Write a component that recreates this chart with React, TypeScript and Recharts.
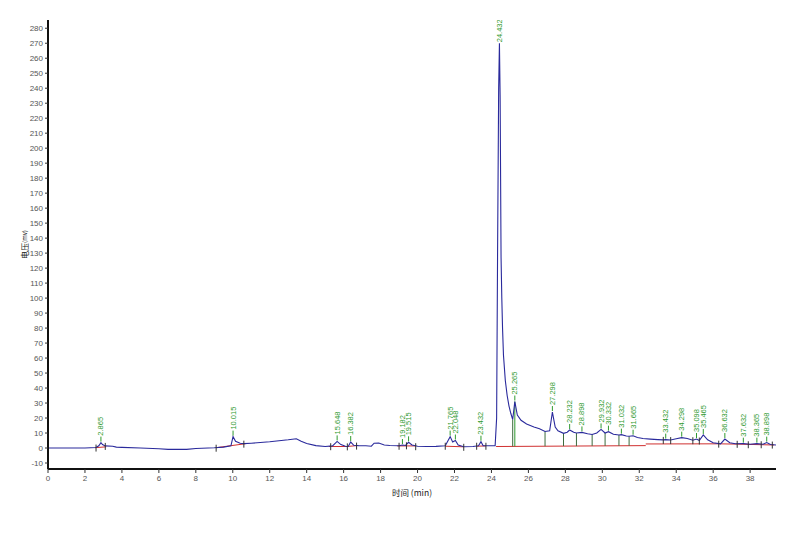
import React from 'react';
import {
  ComposedChart, Line, Scatter, XAxis, YAxis, ReferenceLine, Label,
} from 'recharts';

// retention time (min) and detector signal (mV)
const TIME = [
  0, 1.0, 2.0, 2.6, 2.75, 2.865, 2.95, 3.1, 3.5, 3.7, 4.0, 5.0, 6.0, 6.5, 7.5, 8.0, 9.0, 9.5, 9.9,
  10.015, 10.15, 10.4, 10.6, 11.0, 12.0, 13.0, 13.44, 13.7, 14.0, 14.5, 15.0, 15.4, 15.648, 15.85,
  16.1, 16.25, 16.382, 16.55, 16.8, 17.2, 17.5, 17.65, 17.9, 18.2, 18.5, 19.0, 19.182, 19.35, 19.515,
  19.7, 20.0, 20.5, 21.0, 21.5, 21.765, 21.9, 22.048, 22.2, 22.5, 23.0, 23.3, 23.432, 23.55, 23.8,
  24.2, 24.28, 24.33, 24.39, 24.432, 24.47, 24.52, 24.56, 24.6, 24.65, 24.75, 24.85, 24.95, 25.05, 25.15,
  25.265, 25.4, 25.6, 25.9, 26.3, 26.6, 26.9, 27.15, 27.298, 27.45, 27.6, 27.9, 28.1, 28.232, 28.45,
  28.6, 28.898, 29.2, 29.45, 29.7, 29.932, 30.15, 30.332, 30.6, 30.9, 31.032, 31.3, 31.45, 31.665,
  31.9, 32.2, 32.6, 33.0, 33.3, 33.432, 33.7, 34.0, 34.298, 34.6, 34.9, 35.098, 35.25, 35.465, 35.7,
  36.0, 36.4, 36.632, 36.9, 37.2, 37.632, 38.0, 38.365, 38.7, 38.898, 39.1, 39.4,
];
const VOLT = [
  0, 0, 0, 0.3, 1.5, 3.6, 2.3, 1.4, 1.2, 0.6, 0.4, 0, -0.5, -0.9, -0.9, -0.3, 0.2, 0.6, 1.5,
  7.6, 4.5, 3.2, 2.9, 3.2, 4.2, 5.5, 6.2, 4.5, 3.0, 1.6, 1.0, 1.4, 4.4, 2.3,
  1.2, 1.0, 4.0, 1.8, 1.6, 1.5, 1.2, 3.2, 3.3, 2.0, 1.7, 1.5, 2.0, 1.7, 3.8,
  2.0, 1.2, 1.0, 1.1, 1.5, 7.6, 4.0, 5.0, 2.0, 0.8, 1.0, 1.5, 4.2, 1.5, 1.5,
  1.6, 20, 127, 240, 270, 234, 127, 100, 80, 62, 45, 35, 28, 23, 19,
  31, 22, 18.5, 16, 14, 12.8, 11, 11.5, 24, 14, 11.5, 9.8, 10.5, 12, 10.5,
  10, 10.4, 9.5, 9, 10, 12.4, 10, 10.9, 9.2, 8.7, 8.9, 8, 7.8, 8.2,
  7.0, 6.3, 5.9, 5.6, 5.4, 5.6, 5.3, 6.2, 6.9, 6.4, 5.2, 6.0, 5.0, 8.7, 5.5,
  3.5, 2.8, 6.0, 3.5, 2.8, 2.9, 2.5, 2.9, 2.5, 3.6, 2.3, 2.0,
];

// integrated peaks
const PEAK_TIMES = [
  2.865, 10.015, 15.648, 16.382, 19.182, 19.515, 21.765, 22.048, 23.432, 24.432, 25.265, 27.298,
  28.232, 28.898, 29.932, 30.332, 31.032, 31.665, 33.432, 34.298, 35.098, 35.465, 36.632, 37.632,
  38.365, 38.898,
];
const PEAK_LABELS = [
  '2.865', '10.015', '15.648', '16.382', '19.182', '19.515', '21.765', '22.048', '23.432', '24.432',
  '25.265', '27.298', '28.232', '28.898', '29.932', '30.332', '31.032', '31.665', '33.432', '34.298',
  '35.098', '35.465', '36.632', '37.632', '38.365', '38.898',
];
const PEAK_HEIGHTS = [
  3.6, 7.6, 4.4, 4.0, 2.0, 3.8, 7.6, 5.0, 4.2, 270, 31, 24,
  12, 10.4, 12.4, 10.9, 8.9, 8.2, 5.6, 6.9, 6.0, 8.7, 6.0, 2.9,
  2.9, 3.6,
];

// integration baselines: [t1, v1, t2, v2]
const BASELINES = [
  [2.55, 0.2, 3.15, 0.8],
  [9.1, 0.2, 10.7, 2.9],
  [15.2, 1.0, 16.2, 1.0],
  [16.2, 1.0, 16.7, 1.6],
  [18.9, 1.4, 19.9, 1.4],
  [21.5, 1.2, 22.5, 0.8],
  [23.2, 1.2, 23.7, 1.4],
  [24.25, 1.0, 32.35, 1.6],
  [32.35, 2.7, 36.3, 2.8],
  [36.3, 2.8, 37.3, 2.6],
  [37.3, 2.6, 39.3, 2.0],
];

// drop lines from the trace down to the baseline: [t, base, top]
const DROPS = [
  [25.15, 1.1, 19], [26.9, 1.2, 11], [27.9, 1.3, 9.8], [28.6, 1.3, 10],
  [29.45, 1.4, 9], [30.15, 1.4, 10], [30.9, 1.5, 8.7], [31.45, 1.5, 7.8],
];

// short peak start / end marks on the trace
const MARK_TIMES = [2.6, 3.1, 9.1, 10.6, 15.3, 16.2, 16.7, 19.0, 19.4, 19.9, 21.5, 22.5, 23.2, 23.7,
  33.3, 33.7, 34.9, 35.25, 36.3, 37.3, 37.9, 38.6, 39.2];
const MARK_VALUES = [0.3, 1.4, 0.2, 2.9, 1.2, 1.1, 1.6, 1.5, 1.8, 1.2, 1.5, 0.8, 1.5, 1.5,
  5.4, 5.3, 5.2, 5.0, 2.9, 2.8, 2.5, 2.5, 2.3];

const X_TICKS = [0, 2, 4, 6, 8, 10, 12, 14, 16, 18, 20, 22, 24, 26, 28, 30, 32, 34, 36, 38];
const Y_TICKS = [-10, 0, 10, 20, 30, 40, 50, 60, 70, 80, 90, 100, 110, 120, 130, 140, 150, 160, 170,
  180, 190, 200, 210, 220, 230, 240, 250, 260, 270, 280];
const X_MINOR = Array.from({ length: 79 }, (_, i) => i * 0.5);

const trace = TIME.map((t, i) => ({ t, v: VOLT[i] }));
const peaks = PEAK_TIMES.map((t, i) => ({ t, v: PEAK_HEIGHTS[i], label: PEAK_LABELS[i] }));
const marks = MARK_TIMES.map((t, i) => ({ t, v: MARK_VALUES[i] }));

const GREEN = '#2f9a2f';
const FONT = '"Liberation Sans", Arial, sans-serif';

function PeakLabel(props: any) {
  const { cx, cy, payload } = props;
  if (cx == null || cy == null) return null;
  const gap = cy < 60 ? 0 : 6;
  return (
    <g>
      {gap > 0 && <line x1={cx} y1={cy - 1} x2={cx} y2={cy - gap} stroke={GREEN} strokeWidth={1} />}
      <text
        x={cx}
        y={cy - gap - 1}
        transform={`rotate(-90 ${cx} ${cy - gap - 1})`}
        fontSize={7.5}
        fontFamily={FONT}
        fill={GREEN}
        dominantBaseline="central"
      >
        {payload.label}
      </text>
    </g>
  );
}

function Mark(props: any) {
  const { cx, cy } = props;
  if (cx == null || cy == null) return null;
  return <line x1={cx} y1={cy - 3} x2={cx} y2={cy + 4} stroke="#333" strokeWidth={1} />;
}

function YTitle(props: any) {
  const vb = props.viewBox || {};
  const x = 16;
  const y = (vb.y ?? 12) + (vb.height ?? 449) / 2;
  return (
    <text x={x} y={y} transform={`rotate(-90 ${x} ${y})`} textAnchor="middle" dominantBaseline="central"
      fontFamily='"Noto Sans CJK SC", sans-serif' fill="#222">
      <tspan fontSize={8}>电压</tspan>
      <tspan fontSize={6}>(mv)</tspan>
    </text>
  );
}

export default function App() {
  const tick = { fontSize: 8, fill: '#555', fontFamily: FONT };
  return (
    <ComposedChart width={792} height={530} margin={{ top: 12, right: 24, bottom: 39, left: 0 }}>
      <XAxis xAxisId="minor" dataKey="t" type="number" domain={[0, 39.4]} ticks={X_MINOR}
        tick={false} tickSize={3} axisLine={false} height={0} tickLine={{ stroke: '#555' }} allowDataOverflow />
      <XAxis xAxisId="main" dataKey="t" type="number" domain={[0, 39.4]} ticks={X_TICKS} interval={0}
        tick={tick} tickSize={4} height={30} allowDataOverflow
        axisLine={{ stroke: '#111', strokeWidth: 2 }} tickLine={{ stroke: '#333' }}>
        <Label value="时间 (min)" position="insideBottom" offset={3} fontSize={8.5}
          fontFamily='"Noto Sans CJK SC", sans-serif' fill="#222" />
      </XAxis>
      <XAxis xAxisId="top" orientation="top" dataKey="t" type="number" domain={[0, 39.4]} height={0}
        tick={false} tickLine={false} axisLine={{ stroke: '#666', strokeWidth: 1.5 }} />
      <YAxis yAxisId="main" type="number" domain={[-14, 285.5]} ticks={Y_TICKS} interval={0} width={40}
        tick={tick} tickSize={3} allowDataOverflow
        axisLine={{ stroke: '#111', strokeWidth: 2 }} tickLine={{ stroke: '#333' }}>
        <Label content={<YTitle />} />
      </YAxis>
      <YAxis yAxisId="right" orientation="right" type="number" domain={[-14, 285.5]} width={0}
        tick={false} tickLine={false} axisLine={{ stroke: '#555', strokeWidth: 1.5 }} />

      {BASELINES.map(([t1, v1, t2, v2], i) => (
        <ReferenceLine key={`b${i}`} xAxisId="main" yAxisId="main"
          segment={[{ x: t1, y: v1 }, { x: t2, y: v2 }]} stroke="#d03030" strokeWidth={1} />
      ))}
      {DROPS.map(([t, b, v], i) => (
        <ReferenceLine key={`d${i}`} xAxisId="main" yAxisId="main"
          segment={[{ x: t, y: b }, { x: t, y: v }]} stroke="#3d6b3d" strokeWidth={1} />
      ))}
      <ReferenceLine xAxisId="main" yAxisId="main"
        segment={[{ x: 25.265, y: 1.1 }, { x: 25.265, y: 31 }]} stroke={GREEN} strokeWidth={1} />

      <Line xAxisId="main" yAxisId="main" data={trace} dataKey="v" type="linear" stroke="#2a2a9c"
        strokeWidth={1.1} dot={false} isAnimationActive={false} />
      <Scatter xAxisId="main" yAxisId="main" data={marks} dataKey="v" shape={<Mark />} isAnimationActive={false} />
      <Scatter xAxisId="main" yAxisId="main" data={peaks} dataKey="v" shape={<PeakLabel />} isAnimationActive={false} />
    </ComposedChart>
  );
}
